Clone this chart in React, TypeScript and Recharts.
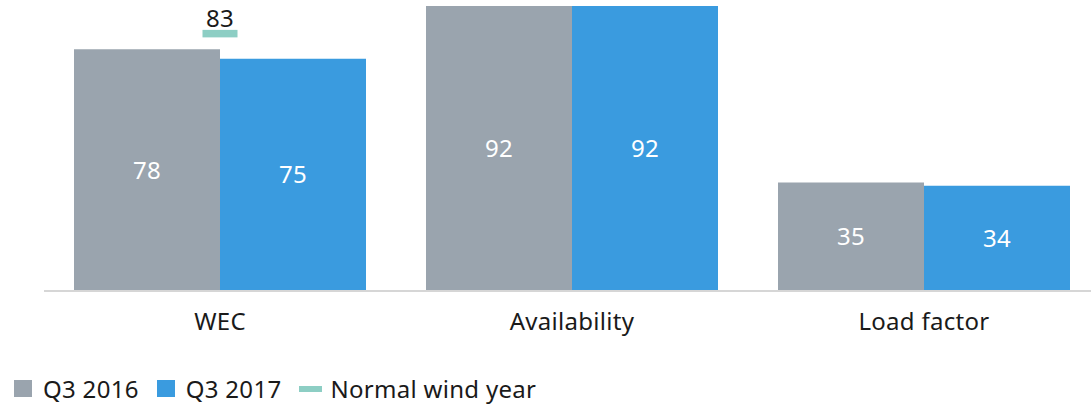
import { ComposedChart, Bar, Line, XAxis, YAxis, LabelList } from 'recharts'

const categories = ['WEC', 'Availability', 'Load factor']
const q3_2016 = [78, 92, 35]
const q3_2017 = [75, 92, 34]
const normalWindYear: (number | null)[] = [83, null, null]

const GRAY = '#9aa4ae'
const BLUE = '#3a9bdf'
const TEAL = '#8dcec4'
const FONT = '"Noto Sans", "Open Sans", sans-serif'
const FS = 24
const LS = 0.3

const data = categories.map((name, i) => ({
  name,
  q16: q3_2016[i],
  q17: q3_2017[i],
  normal: normalWindYear[i],
}))

function CategoryTick({ x, y, payload }: any) {
  return (
    <text x={x} y={y + 39} textAnchor="middle" fontSize={FS} letterSpacing={LS} fill="#1a1a1a" fontFamily={FONT}>
      {payload.value}
    </text>
  )
}

function NormalMarker({ cx, cy, value }: any) {
  if (value == null || cy == null) return <g />
  return (
    <g>
      <rect x={cx - 17.5} y={cy - 4} width={35} height={7.5} fill={TEAL} />
      <text x={cx} y={cy - 7} textAnchor="middle" fontSize={FS} letterSpacing={LS} fill="#1a1a1a" fontFamily={FONT}>
        {value}
      </text>
    </g>
  )
}

const legendItems = [
  { label: 'Q3 2016', color: GRAY, kind: 'square' },
  { label: 'Q3 2017', color: BLUE, kind: 'square' },
  { label: 'Normal wind year', color: TEAL, kind: 'line' },
]

export default function App() {
  return (
    <div style={{ position: 'absolute', left: 0, top: 0, width: 1091, height: 405, overflow: 'hidden', background: '#fff' }}>
      <ComposedChart
        width={1100}
        height={405}
        data={data}
        margin={{ top: 6, right: 0, bottom: 64, left: 44 }}
        barCategoryGap={30}
        barGap={0}
      >
        <XAxis
          dataKey="name"
          tick={<CategoryTick />}
          tickLine={false}
          tickSize={0}
          tickMargin={0}
          axisLine={{ stroke: '#d6d6d6', strokeWidth: 2 }}
          height={50}
          interval={0}
        />
        <YAxis hide domain={[0, 92]} />
        <Bar dataKey="q16" fill={GRAY} isAnimationActive={false}>
          <LabelList dataKey="q16" position="center" fill="#fff" fontSize={FS} letterSpacing={LS} fontFamily={FONT} />
        </Bar>
        <Bar dataKey="q17" fill={BLUE} isAnimationActive={false}>
          <LabelList dataKey="q17" position="center" fill="#fff" fontSize={FS} letterSpacing={LS} fontFamily={FONT} />
        </Bar>
        <Line
          dataKey="normal"
          stroke="none"
          dot={<NormalMarker />}
          activeDot={false}
          isAnimationActive={false}
        />
      </ComposedChart>
      <div
        style={{
          position: 'absolute',
          left: 14,
          top: 372,
          display: 'flex',
          alignItems: 'center',
          fontFamily: FONT,
          fontSize: FS,
          letterSpacing: LS,
          color: '#1a1a1a',
          whiteSpace: 'nowrap',
        }}
      >
        {legendItems.map((it) => (
          <div key={it.label} style={{ display: 'flex', alignItems: 'center', marginRight: 18 }}>
            {it.kind === 'square' ? (
              <span style={{ display: 'inline-block', width: 18, height: 17, background: it.color, marginRight: 11 }} />
            ) : (
              <span style={{ display: 'inline-block', width: 23, height: 6, background: it.color, marginRight: 8 }} />
            )}
            <span>{it.label}</span>
          </div>
        ))}
      </div>
    </div>
  )
}
